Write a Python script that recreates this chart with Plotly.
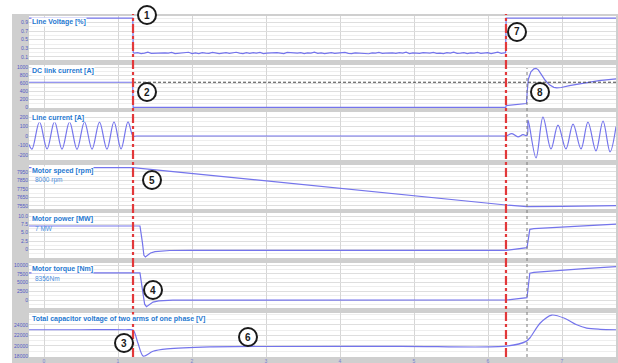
import numpy as np
import plotly.graph_objects as go
from plotly.subplots import make_subplots

# ---------------- data (time in s) ----------------
T_FAULT = 1.203
T_CLEAR = 6.243
T_RESTART = 6.527

# 1 Line voltage [%]
lv_t_pre = [-0.203, 1.200, 1.206]
lv_v_pre = [1.00, 1.00, 0.20]
lv_noise = [0.19, 0.20, 0.18, 0.19, 0.21, 0.185, 0.19, 0.18, 0.20, 0.195, 0.19, 0.205, 0.18, 0.185,
            0.20, 0.19, 0.21, 0.18, 0.195, 0.18, 0.20, 0.19, 0.185, 0.205, 0.19, 0.18, 0.19, 0.20,
            0.185, 0.195, 0.21, 0.19, 0.18, 0.20, 0.185, 0.20, 0.19, 0.205, 0.18, 0.19, 0.195, 0.185,
            0.20, 0.19, 0.18, 0.205, 0.195, 0.185, 0.19, 0.20, 0.18, 0.195, 0.19, 0.21, 0.185, 0.195,
            0.18, 0.19, 0.20, 0.185, 0.195, 0.19, 0.205, 0.185, 0.18, 0.195, 0.19, 0.20, 0.185, 0.175,
            0.195, 0.19, 0.205, 0.185, 0.19, 0.20, 0.195, 0.185, 0.20, 0.19, 0.21, 0.18, 0.195, 0.19,
            0.185, 0.20, 0.195, 0.19, 0.205, 0.185, 0.19, 0.18, 0.20, 0.19, 0.21, 0.185, 0.19, 0.20,
            0.18, 0.195, 0.19, 0.205, 0.185, 0.19, 0.20, 0.18, 0.19, 0.21, 0.185, 0.195]
lv_t_post = [6.238, 6.245, 7.730]
lv_v_post = [0.20, 1.00, 1.00]

# 2 DC link current [A]
dc_t = [-0.203, 1.198, 1.205, 6.240, 6.245, 6.520, 6.530, 6.545, 6.580, 6.620, 6.649, 6.680,
        6.720, 6.770, 6.830, 6.890, 6.930, 6.990, 7.100, 7.300, 7.500, 7.730]
dc_v = [625, 625, 5, 5, 50, 100, 400, 700, 880, 955, 968, 930, 820, 680, 560, 500, 488, 495,
        540, 610, 665, 707]
dc_ref = 625

# 3 Line current [A]
lc_t = [-0.203, -0.162, -0.061, 0.041, 0.142, 0.243, 0.345, 0.446, 0.547, 0.649, 0.750, 0.851,
        0.946, 1.041, 1.135, 1.203, 1.25, 3.0, 6.2, 6.243, 6.324, 6.405, 6.473, 6.527, 6.541, 6.649,
        6.743, 6.851, 6.946, 7.054, 7.149, 7.257, 7.351, 7.459, 7.554, 7.649, 7.730]
lc_v = [-90, -140, 150, -138, 152, -140, 150, -142, 150, -140, 148, -140, 150, -138, 150, 0, 0, 0,
        0, 0, 25, -10, 15, 5, 168, -232, 200, -137, 116, -137, 126, -137, 147, -158, 158, -168, 100]

# 4 Motor speed [rpm]
sp_t = [-0.203, 1.203, 6.243, 6.527, 7.000, 7.730]
sp_v = [8000, 8000, 7560, 7542, 7544, 7552]

# 5 Motor power [MW]
pw_t = [-0.203, 1.297, 1.330, 1.350, 1.370, 1.400, 1.440, 1.500, 1.570, 1.700, 2.000, 6.243,
        6.527, 6.545, 6.565, 6.620, 6.946, 7.300, 7.730]
pw_v = [7.0, 7.0, 2.0, -1.8, -2.26, -1.8, -1.1, -0.7, -0.5, -0.35, -0.3, -0.3,
        0.5, 4.0, 6.0, 6.2, 6.6, 7.0, 7.56]

# 6 Motor torque [Nm]
tq_t = [-0.203, 1.297, 1.330, 1.360, 1.385, 1.420, 1.473, 1.550, 1.740, 2.200, 6.243,
        6.527, 6.545, 6.565, 6.620, 6.946, 7.300, 7.730]
tq_v = [7800, 7800, 3000, -1200, -1925, -1400, -600, -250, -50, -50, 0,
        660, 5000, 7700, 7950, 8500, 9000, 9570]

# 7 Total capacitor voltage [V]
cv_t = [-0.203, 0.500, 1.100, 1.203, 1.270, 1.342, 1.473, 1.662, 2.243, 4.811, 6.243, 6.514,
        6.568, 6.703, 6.861, 7.041, 7.199, 7.334, 7.514, 7.730]
cv_v = [23065, 23065, 23065, 23000, 20500, 18060, 18990, 19430, 19810, 19930, 19950, 20860,
        21550, 24300, 25850, 25200, 24000, 23375, 23150, 23065]

titles = ["Line Voltage [%]", "DC link current [A]", "Line current [A]", "Motor speed [rpm]",
          "Motor power [MW]", "Motor torque [Nm]",
          "Total capacitor voltage of two arms of one phase [V]"]
notes = [None, None, None, "8000 rpm", "7 MW", "8356Nm", None]

yticks = [
    ([0.1, 0.3, 0.5, 0.7, 0.9], ["0.1", "0.3", "0.5", "0.7", "0.9"]),
    ([0, 200, 400, 600, 800, 1000], ["0", "200", "400", "600", "800", "1000"]),
    ([-200, -100, 0, 100, 200], ["-200", "-100", "0", "100", "200"]),
    ([7550, 7650, 7750, 7850, 7950], ["7550", "7650", "7750", "7850", "7950"]),
    ([0, 2.5, 5, 7.5, 10], ["0", "2.5", "5.0", "7.5", "10.0"]),
    ([0, 2500, 5000, 7500, 10000], ["0", "2500", "5000", "7500", "10000"]),
    ([18000, 20000, 22000, 24000], ["18000", "20000", "22000", "24000"]),
]
yranges = [[0.03, 1.05], [-10, 1050], [-255, 255], [7513, 8030], [-2.6, 10.9], [-2300, 10630], [17900, 26240]]
yminor = [(0.0, 0.1), (0, 100), (0, 50), (7500, 50), (0, 1.25), (0, 1250), (18000, 1000)]
line_shapes = ["linear", "linear", "spline", "linear", "linear", "linear", "spline"]

# ---------------- layout geometry ----------------
W, H = 618, 363
L, R, T, B = 29, 2, 16, 6
PW, PH = W - L - R, H - T - B
panels_px = [(16, 60), (65, 108), (112, 160), (165, 209), (213, 258), (263, 308), (313, 357)]
X0PX, DTPX = 44, 74  # pixel of t=0 and pixels per second


def px2x(px):
    return (px - L) / PW


def px2y(py):
    return (H - B - py) / PH


xr = [(L - X0PX) / DTPX, (W - R - X0PX) / DTPX]

LINE = "#7474ec"
fig = make_subplots(rows=7, cols=1, shared_xaxes=True, vertical_spacing=0.01)

lv_t_mid = list(np.linspace(1.22, 6.225, len(lv_noise)))
series = [
    (lv_t_pre + lv_t_mid + lv_t_post, lv_v_pre + lv_noise + lv_v_post),
    (dc_t, dc_v), (lc_t, lc_v), (sp_t, sp_v), (pw_t, pw_v), (tq_t, tq_v), (cv_t, cv_v),
]
for i, (xs, ys) in enumerate(series):
    ln = dict(color=LINE, width=1.2, shape=line_shapes[i])
    if line_shapes[i] == "spline":
        ln["smoothing"] = 1.0 if i == 2 else 0.8
    fig.add_trace(go.Scatter(x=xs, y=ys, mode="lines", line=ln, hoverinfo="skip"), row=i + 1, col=1)

shapes = []
# gray frame background
shapes.append(dict(type="rect", xref="paper", yref="paper", x0=px2x(12), x1=px2x(W + 5),
                   y0=px2y(H + 5), y1=px2y(14), fillcolor="#cfcfcf", line=dict(width=0), layer="below"))
annotations = []
for i, (top, bot) in enumerate(panels_px):
    k = "" if i == 0 else str(i + 1)
    shapes.append(dict(type="rect", xref="paper", yref="paper", x0=0, x1=1,
                       y0=px2y(bot), y1=px2y(top), fillcolor="white", line=dict(width=0), layer="below"))
    fig.layout["yaxis" + k].update(
        domain=[px2y(bot), px2y(top)], range=yranges[i], tickmode="array",
        tickvals=yticks[i][0], ticktext=yticks[i][1], showgrid=True, gridcolor="#dedede",
        gridwidth=1, zeroline=False, ticks="", showline=False, automargin=False,
        tickfont=dict(size=5, color="#4f58c4", family="Liberation Sans"),
        minor=dict(tickmode="linear", tick0=yminor[i][0], dtick=yminor[i][1], showgrid=True,
                   gridcolor="#eeeeee", gridwidth=1, ticks=""),
        fixedrange=True)
    fig.layout["xaxis" + k].update(
        range=xr, tickmode="linear", tick0=0, dtick=1, showgrid=True, gridcolor="#d6d6d6",
        zeroline=False, showline=False, showticklabels=(i == 6), automargin=False,
        ticks="", tickfont=dict(size=5, color="#7b7fd0", family="Liberation Sans"))
    annotations.append(dict(xref="paper", yref="paper", x=px2x(31), y=px2y(top + 1),
                            xanchor="left", yanchor="top", showarrow=False,
                            text="<b>" + titles[i] + "</b>", bgcolor="white", borderpad=0,
                            font=dict(size=7, color="#1f78d0", family="Liberation Sans")))
    if notes[i]:
        annotations.append(dict(xref="paper", yref="paper", x=px2x(33), y=px2y(top + 15),
                                xanchor="left", yanchor="middle", showarrow=False, text=notes[i],
                                font=dict(size=6.5, color="#4a8fe0", family="Liberation Sans")))

# dashed reference in DC link panel
shapes.append(dict(type="line", xref="x2", yref="y2", x0=T_FAULT, x1=xr[1], y0=dc_ref, y1=dc_ref,
                   line=dict(color="#444444", width=1, dash="3px,2px"), layer="above"))
# restart dotted line
shapes.append(dict(type="line", xref="x", yref="paper", x0=T_RESTART, x1=T_RESTART,
                   y0=px2y(357), y1=px2y(68), line=dict(color="#7a7a7a", width=1, dash="dot"), layer="above"))
# red event lines
for tv in (T_FAULT, T_CLEAR):
    shapes.append(dict(type="line", xref="x", yref="paper", x0=tv, x1=tv, y0=px2y(357), y1=px2y(14),
                       line=dict(color="#e2383a", width=2.2, dash="dashdot"), layer="above"))

# numbered markers
markers = [("1", 147, 15), ("2", 147, 92), ("3", 124, 343), ("4", 153, 290),
           ("5", 152, 180), ("6", 248, 337), ("7", 517, 32), ("8", 540, 92)]
for lab, mx, my in markers:
    shapes.append(dict(type="circle", xref="paper", yref="paper", xsizemode="pixel", ysizemode="pixel",
                       xanchor=px2x(mx), yanchor=px2y(my), x0=-9, x1=9, y0=-9, y1=9,
                       fillcolor="white", line=dict(color="#1a1a1a", width=2), layer="above"))
    annotations.append(dict(xref="paper", yref="paper", x=px2x(mx), y=px2y(my), text="<b>" + lab + "</b>",
                            showarrow=False, xanchor="center", yanchor="middle",
                            font=dict(size=10, color="#1a1a1a", family="Liberation Sans")))

fig.update_layout(width=W, height=H, margin=dict(l=L, r=R, t=T, b=B, autoexpand=False), showlegend=False,
                  paper_bgcolor="white", plot_bgcolor="rgba(0,0,0,0)",
                  shapes=shapes, annotations=annotations)
fig.write_html("out.html", config={"displayModeBar": False})
